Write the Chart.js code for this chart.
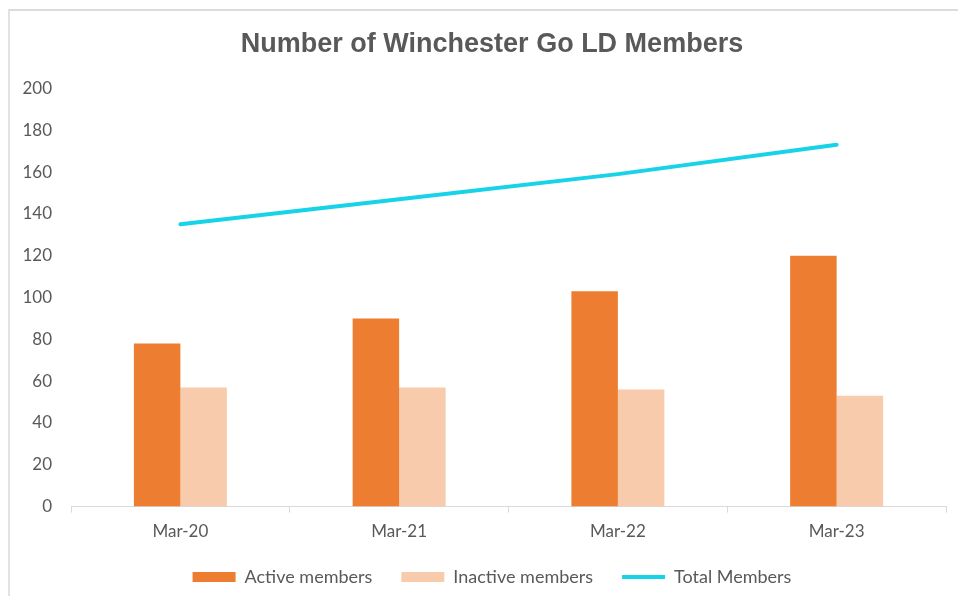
<!DOCTYPE html>
<html><head><meta charset="utf-8">
<script src="https://cdn.jsdelivr.net/npm/chart.js@4"></script>
<style>
html,body{margin:0;padding:0;background:#fff;}
#wrap{position:relative;width:958px;height:596px;overflow:hidden;}
#frame{position:absolute;left:8px;top:9px;right:-10px;bottom:-10px;border-left:2px solid #e2e2e2;border-top:2px solid #dcdcdc;pointer-events:none;}
canvas{position:absolute;left:0;top:0;}
</style></head><body>
<div id="wrap"><canvas id="c" width="958" height="596"></canvas><div id="frame"></div></div>
<script>
const chartTitle = 'Number of Winchester Go LD Members';
const categories = ['Mar-20', 'Mar-21', 'Mar-22', 'Mar-23'];
const activeMembers = [78, 90, 103, 120];
const inactiveMembers = [57, 57, 56, 53];
const totalMembers = [135, 147, 159, 173];
const yMin = 0, yMax = 200, yStep = 20;

const textColor = '#595959';
const tickFont = { family: 'Lato, "Open Sans", sans-serif', size: 17 };

// shift title and legend slightly right so they centre like the original
const shiftPlugin = {
  id: 'shiftBoxes',
  afterLayout(chart) {
    [chart.titleBlock, chart.legend].forEach(b => { if (b) { b.left += 9; b.right += 9; } });
  }
};

new Chart(document.getElementById('c'), {
  type: 'bar',
  data: {
    labels: categories,
    datasets: [
      { label: 'Active members', data: activeMembers, backgroundColor: '#ED7D31', borderWidth: 0,
        pointStyle: 'rect', categoryPercentage: 0.425, barPercentage: 1 },
      { label: 'Inactive members', data: inactiveMembers, backgroundColor: '#F8CBAD', borderWidth: 0,
        pointStyle: 'rect', categoryPercentage: 0.425, barPercentage: 1 },
      { type: 'line', label: 'Total Members', data: totalMembers, borderColor: '#16D3E8',
        backgroundColor: '#16D3E8', borderWidth: 4, pointRadius: 0, pointHoverRadius: 0,
        pointStyle: 'line', tension: 0, borderCapStyle: 'round', fill: false }
    ]
  },
  plugins: [shiftPlugin],
  options: {
    responsive: false,
    animation: false,
    devicePixelRatio: 1,
    layout: { padding: { left: 20, right: 12, top: 0, bottom: 0 } },
    plugins: {
      tooltip: { enabled: false },
      title: {
        display: true, text: chartTitle, color: textColor,
        font: { family: '"Liberation Sans", Arial, sans-serif', size: 27, weight: 'bold' },
        padding: { top: 28, bottom: 28 }
      },
      legend: {
        position: 'bottom',
        labels: {
          usePointStyle: true, pointStyleWidth: 43, boxHeight: 10,
          color: textColor, font: { family: 'Lato, "Open Sans", sans-serif', size: 18 },
          padding: 29
        }
      }
    },
    scales: {
      x: {
        offset: true,
        grid: { display: true, drawOnChartArea: false, drawTicks: true, tickLength: 6, color: '#d9d9d9', offset: true },
        border: { display: true, color: '#d9d9d9', width: 1 },
        ticks: { color: textColor, font: tickFont, padding: 9 },
        afterFit: (s) => { s.height -= 12; }
      },
      y: {
        min: yMin, max: yMax,
        ticks: { stepSize: yStep, color: textColor, font: tickFont, padding: 19 },
        grid: { display: false, drawTicks: false },
        border: { display: false },
        afterFit: (s) => { s.width = 51; }
      }
    }
  }
});
</script>
</body></html>
